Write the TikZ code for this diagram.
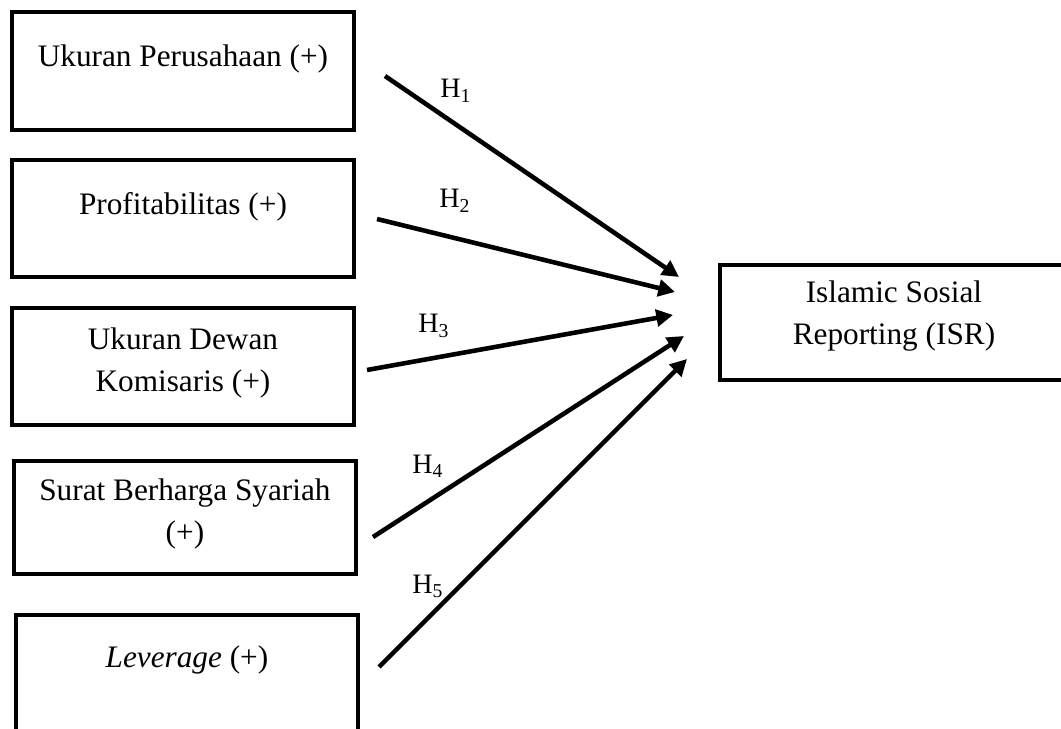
\documentclass[tikz,border=0pt]{standalone}
\usepackage{fontspec}
\setmainfont{Liberation Serif}
\usetikzlibrary{arrows.meta}

\tikzset{
  var/.style={draw, line width=2.4pt, inner sep=0pt, outer sep=0pt,
    minimum width=6.84cm, anchor=north west,
    font=\fontsize{17.8}{23.5}\selectfont},
  hyp/.style={anchor=base west, inner sep=0pt,
    font=\fontsize{16}{19}\selectfont},
  link/.style={line width=2.6pt, -{Triangle[length=9.5pt,width=9.5pt]}}
}

\begin{document}
\begin{tikzpicture}[x=0.02cm, y=-0.02cm]
            \clip (0,0) rectangle (1061,729);

            \node[var, text height=1.1cm, text depth=1.26cm]   (size) at (12,12)  {Ukuran Perusahaan (+)};
            \node[var, text height=1.1cm, text depth=1.24cm]   (prof) at (12,160) {Profitabilitas (+)};
            \node[var, text height=0.84cm, text depth=1.5cm]   (board) at (12,308) {\begin{tabular}[t]{@{}c@{}}Ukuran Dewan\\Komisaris (+)\end{tabular}};
            \node[var, text height=0.8cm, text depth=1.46cm]   (sukuk) at (14,461) {\begin{tabular}[t]{@{}c@{}}Surat Berharga Syariah\\(+)\end{tabular}};
            \node[var, text height=1.06cm, text depth=1.3cm]   (lev) at (16,615)  {\textit{Leverage} (+)};
            \node[var, minimum width=6.96cm, text height=0.76cm, text depth=1.54cm] (isr) at (720,265) {\begin{tabular}[t]{@{}c@{}}Islamic Sosial\\Reporting (ISR)\end{tabular}};

            % arrow ends
            \coordinate (size-t) at (385,76);   \coordinate (size-h) at (679,277);
            \coordinate (prof-t) at (377,219);  \coordinate (prof-h) at (675,292);
            \coordinate (board-t) at (367,370); \coordinate (board-h) at (673,315);
            \coordinate (sukuk-t) at (373,537); \coordinate (sukuk-h) at (684,336);
            \coordinate (lev-t) at (379,667);   \coordinate (lev-h) at (687,359);

            \draw[link] (size-t) -- (size-h) ; %
            \draw[link] (prof-t) -- (prof-h) ; %
            \draw[link] (board-t) -- (board-h) ; %
            \draw[link] (sukuk-t) -- (sukuk-h) ; %
            \draw[link] (lev-t) -- (lev-h) ; %

            \node[hyp] (h1) at (440,98)  {H\textsubscript{1}};
            \node[hyp] (h2) at (439,208) {H\textsubscript{2}};
            \node[hyp] (h3) at (418,333) {H\textsubscript{3}};
            \node[hyp] (h4) at (412,473) {H\textsubscript{4}};
            \node[hyp] (h5) at (412,593) {H\textsubscript{5}};

        \end{tikzpicture}
\end{document}
